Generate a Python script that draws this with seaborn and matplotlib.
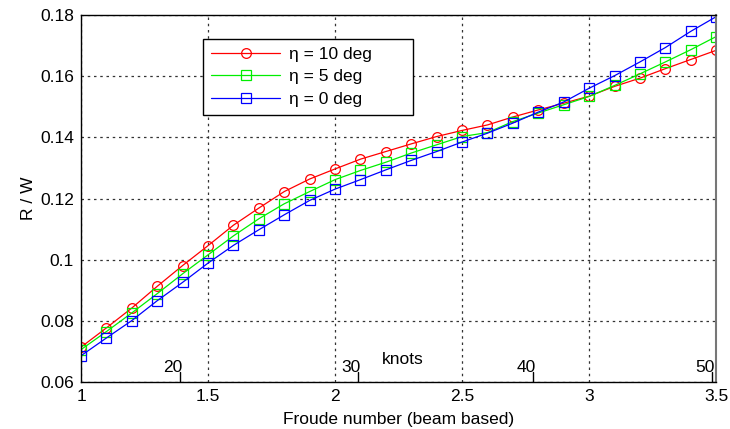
import numpy as np
import pandas as pd
import matplotlib
matplotlib.use("Agg")
import matplotlib.pyplot as plt
import seaborn as sns

# Froude numbers (beam based), 1.0 .. 3.5 in steps of 0.1
froude = [1.0, 1.1, 1.2, 1.3, 1.4, 1.5, 1.6, 1.7, 1.8, 1.9,
          2.0, 2.1, 2.2, 2.3, 2.4, 2.5, 2.6, 2.7, 2.8, 2.9,
          3.0, 3.1, 3.2, 3.3, 3.4, 3.5]

# R/W
rw_eta10 = [0.0714, 0.0777, 0.0842, 0.0913, 0.0981, 0.1046, 0.1113, 0.1169, 0.1223, 0.1264,
            0.1297, 0.1329, 0.1354, 0.1379, 0.1403, 0.1423, 0.1441, 0.1467, 0.1490, 0.1512,
            0.1535, 0.1567, 0.1594, 0.1625, 0.1655, 0.1685]
rw_eta5 = [0.0706, 0.0765, 0.0826, 0.0889, 0.0954, 0.1016, 0.1078, 0.1134, 0.1183, 0.1223,
           0.1262, 0.1292, 0.1319, 0.1349, 0.1376, 0.1403, 0.1416, 0.1452, 0.1480, 0.1507,
           0.1534, 0.1570, 0.1608, 0.1647, 0.1687, 0.1730]
rw_eta0 = [0.0686, 0.0744, 0.0801, 0.0866, 0.0926, 0.0989, 0.1047, 0.1098, 0.1147, 0.1194,
           0.1231, 0.1262, 0.1294, 0.1325, 0.1354, 0.1385, 0.1414, 0.1447, 0.1483, 0.1516,
           0.1561, 0.1602, 0.1647, 0.1694, 0.1747, 0.1795]

# secondary speed scale (knots) marked inside the axes
knot_labels = ["20", "30", "40", "50"]
knot_froude = [1.39, 2.09, 2.78, 3.485]

sns.set_style("white")
plt.rcParams['font.family'] = ['Liberation Sans', 'DejaVu Sans']
plt.rcParams['text.color'] = 'black'
plt.rcParams['axes.labelcolor'] = 'black'

fs = 12.5

fig = plt.figure(figsize=(7.3, 4.29), dpi=100)
ax = fig.add_axes([0.111, 0.1096, 0.870, 0.855])

series = [
    (rw_eta10, "η = 10 deg", "red", "o"),
    (rw_eta5, "η = 5 deg", "#00ee00", "s"),
    (rw_eta0, "η = 0 deg", "blue", "s"),
]
for vals, name, col, mk in series:
    df = pd.DataFrame({"Fn": froude, "RW": vals})
    sns.lineplot(data=df, x="Fn", y="RW", ax=ax, color=col, marker=mk,
                 markersize=7, markerfacecolor="none", markeredgecolor=col,
                 markeredgewidth=0.9, linewidth=0.9, label=name)

ax.set_xlim(1, 3.5)
ax.set_ylim(0.06, 0.18)
ax.set_xticks([1, 1.5, 2, 2.5, 3, 3.5])
ax.set_xticklabels(["1", "1.5", "2", "2.5", "3", "3.5"])
ax.set_yticks([0.06, 0.08, 0.1, 0.12, 0.14, 0.16, 0.18])
ax.set_yticklabels(["0.06", "0.08", "0.1", "0.12", "0.14", "0.16", "0.18"])
ax.tick_params(direction="in", length=4, labelsize=fs, colors="black", pad=5)
ax.grid(True, linestyle=(0, (2, 3)), color="#333333", linewidth=0.9)
for s in ["left", "top", "bottom"]:
    ax.spines[s].set_color("black")
    ax.spines[s].set_linewidth(1.0)
ax.spines["right"].set_color("#777777")
ax.spines["right"].set_linewidth(1.5)

ax.set_xlabel("Froude number (beam based)", fontsize=fs, labelpad=6)
ax.set_ylabel("R / W", fontsize=fs, labelpad=3)

# knots scale
for lab, fn in zip(knot_labels, knot_froude):
    ax.plot([fn, fn], [0.06, 0.0633], color="black", linewidth=1.0)
    ax.annotate(lab, xy=(fn, 0.0647), xytext=(-5, 0), textcoords="offset points",
                ha="center", va="center", fontsize=fs)
ax.text(2.183, 0.0673, "knots", ha="left", va="center", fontsize=fs)

leg = ax.legend(loc="upper left", bbox_to_anchor=(0.192, 0.735, 0.331, 0.2),
                mode="expand", fontsize=fs,
                frameon=True, fancybox=False, edgecolor="black", framealpha=1,
                handlelength=4.0, handletextpad=0.5, borderpad=0.45,
                labelspacing=0.42, borderaxespad=0)
leg.get_frame().set_linewidth(1.0)

plt.savefig("out.png", dpi=100)
plt.close()
